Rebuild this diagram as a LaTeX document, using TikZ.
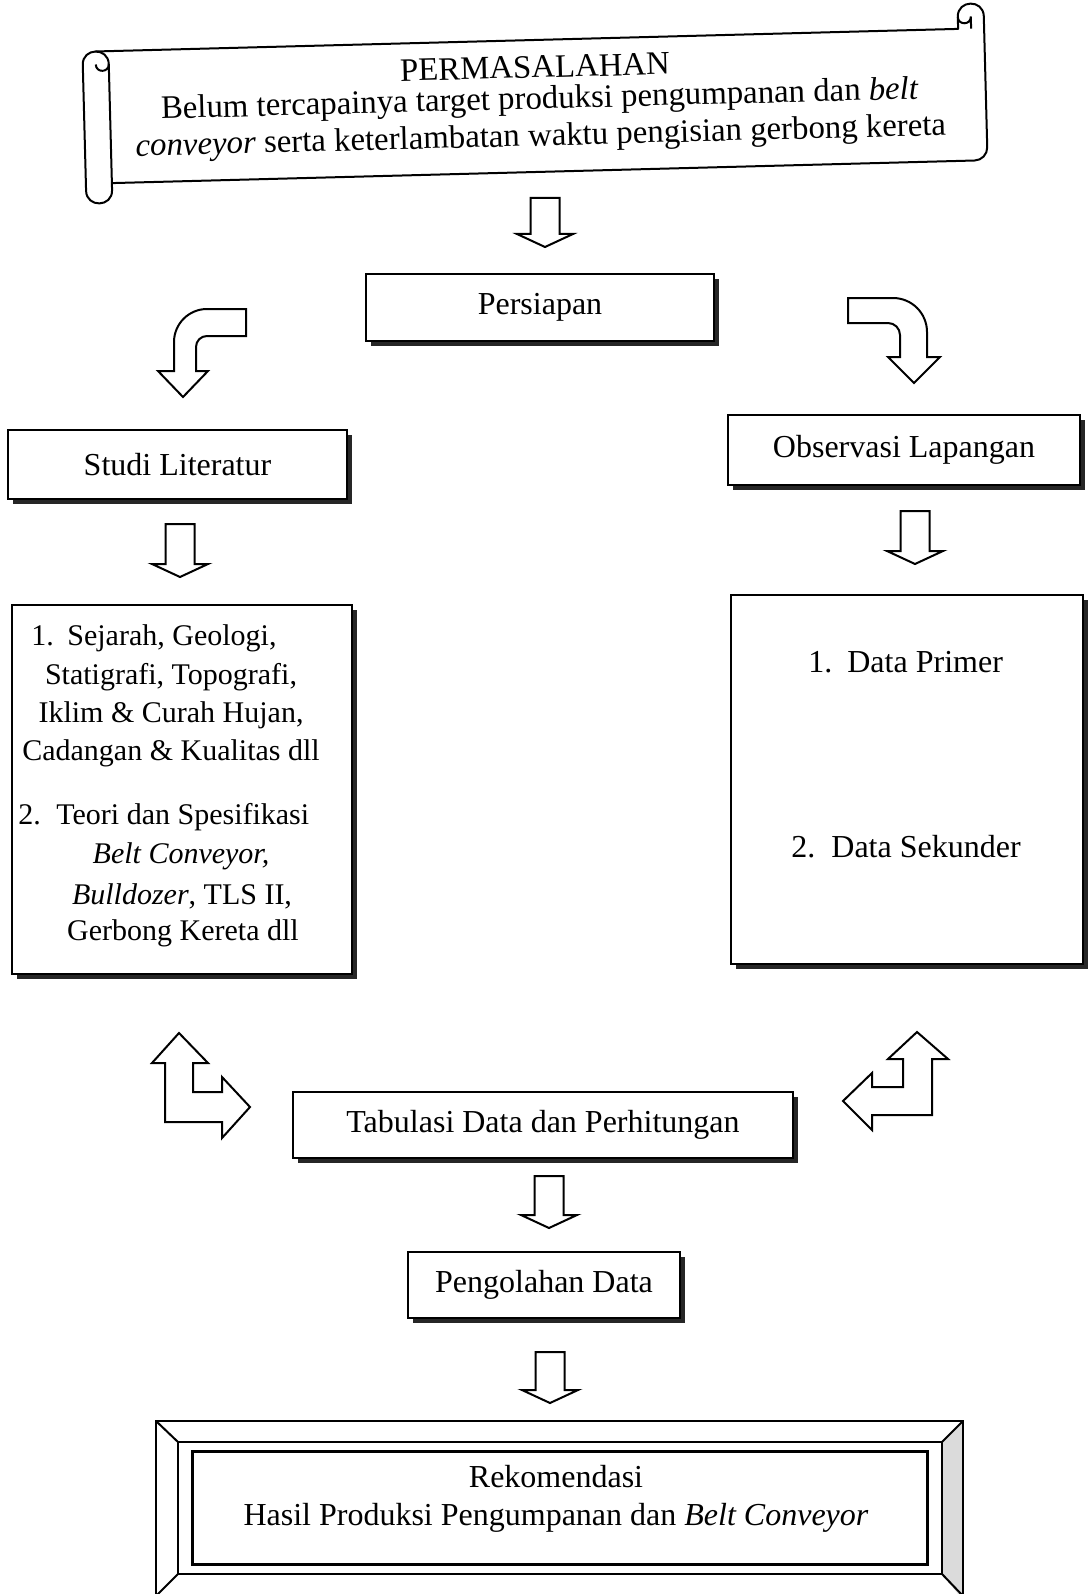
\documentclass[tikz,border=0pt]{standalone}
\usepackage{fontspec}
\setmainfont{Liberation Serif}
\usetikzlibrary{shadows}
\tikzset{
  txt/.style={font=\fontsize{16}{19.2}\selectfont, inner sep=0pt},
  stxt/.style={font=\fontsize{15}{18}\selectfont, inner sep=0pt},
  ktxt/.style={font=\fontsize{16.4}{19.6}\selectfont, inner sep=0pt},
  sbox/.style={draw, line width=1pt, fill=white, inner sep=0pt,
    drop shadow={shadow xshift=2.5pt, shadow yshift=-2.5pt, opacity=1, fill=black!85}},
  blk/.style={draw, line width=1pt, fill=white, line join=miter},
  frm/.style={draw, line width=1pt},
}
\newcommand{\blkdown}[4]{%
  \draw[blk] (#1-14.5,#2) -- (#1+14.5,#2) -- (#1+14.5,#3) -- (#1+28,#3) -- (#1,#4) -- (#1-28,#3) -- (#1-14.5,#3) -- cycle;}
\begin{document}
\begin{tikzpicture}[x=0.5pt, y=-0.5pt]
\useasboundingbox (0,0) rectangle (1087,1594);

% ---------- scroll ----------
\begin{scope}[shift={(535,106)}, rotate=1.5, transform shape]
  \draw[frm, line join=round] (-425,-53) -- (-425,73) .. controls (-425,90.3) and (-451,90.3) .. (-451,73)
      -- (-451,-53) .. controls (-451,-70.3) and (-425,-70.3) .. (-425,-53);
  \draw[frm] (-425,-53) .. controls (-425,-44.3) and (-438,-44.3) .. (-438,-53);
  \draw[frm, line join=round] (-438,-66) -- (425,-66) -- (425,-78) .. controls (425,-95.3) and (451,-95.3) .. (451,-78)
      -- (451,53) .. controls (451,60.2) and (445.2,66) .. (438,66) -- (-425,66);
  \draw[frm] (425,-78) .. controls (425,-69.3) and (438,-69.3) .. (438,-78) -- (438,-66);
  \node[ktxt] (perm) at (1,-39) {PERMASALAHAN};
  \node[ktxt] (perm2) at (5,-5) {Belum tercapainya target produksi pengumpanan dan \textit{belt}};
  \node[ktxt] (perm3) at (5,32) {\textit{conveyor} serta keterlambatan waktu pengisian gerbong kereta};
\end{scope}

% ---------- boxes ----------
\node[sbox, txt, minimum width=174pt, minimum height=33.5pt] (persiapan) at (540,307.5) {Persiapan};
\node[sbox, txt, minimum width=169.5pt, minimum height=34.5pt] (studi) at (177.5,464.5) {Studi Literatur};
\node[sbox, txt, minimum width=176pt, minimum height=35pt] (observasi) at (904,450) {Observasi Lapangan};
\node[sbox, minimum width=170pt, minimum height=184.5pt] (kiri) at (182,789.5) {};
\node[sbox, minimum width=176pt, minimum height=184.5pt] (kanan) at (907,779.5) {};
\node[sbox, txt, minimum width=250pt, minimum height=33pt] (tabulasi) at (543,1125) {Tabulasi Data dan Perhitungan};
\node[sbox, txt, minimum width=136pt, minimum height=33pt] (pengolahan) at (544,1285) {Pengolahan Data};

% left content
\node[stxt, anchor=west] (l1) at (31,638) {\makebox[18pt][l]{1.}Sejarah, Geologi,};
\node[stxt] (l2) at (171,677) {Statigrafi, Topografi,};
\node[stxt] (l3) at (171,715) {Iklim \& Curah Hujan,};
\node[stxt] (l4) at (171,753) {Cadangan \& Kualitas dll};
\node[stxt, anchor=west] (l5) at (18,817) {\makebox[19pt][l]{2.}Teori dan Spesifikasi};
\node[stxt] (l6) at (181,856) {\textit{Belt Conveyor,}};
\node[stxt] (l7) at (182,896) {\textit{Bulldozer}, TLS II,};
\node[stxt] (l8) at (183,933) {Gerbong Kereta dll};

% right content
\node[txt, anchor=west] (r1) at (808,662) {\makebox[19.5pt][l]{1.}Data Primer};
\node[txt, anchor=west] (r2) at (791,847) {\makebox[20pt][l]{2.}Data Sekunder};

% ---------- block arrows ----------
\blkdown{545}{198}{234}{247}
\blkdown{180}{524}{564}{577}
\blkdown{915}{511}{551}{564}
\blkdown{549}{1176}{1215}{1228}
\blkdown{550}{1352}{1390}{1403}

% curved arrows
\draw[blk] (246,309) -- (207,309) .. controls (188.8,309) and (174,323.8) .. (174,342) -- (174,371) -- (158,371)
  -- (183,397) -- (208,371) -- (196,371) -- (196,347) .. controls (196,340.9) and (200.9,336) .. (207,336) -- (246,336) -- cycle;
\draw[blk] (848,298) -- (893,298) .. controls (911.8,298) and (927,313.2) .. (927,332) -- (927,357) -- (940,357)
  -- (914,383) -- (888,357) -- (900,357) -- (900,335) .. controls (900,328.4) and (894.6,323) .. (888,323) -- (848,323) -- cycle;

% bent arrows
\draw[blk] (179,1033) -- (208,1063) -- (193,1063) -- (193,1092) -- (222,1092) -- (222,1077) -- (250,1107)
  -- (222,1138) -- (222,1122) -- (165,1122) -- (165,1063) -- (152,1063) -- cycle;
\draw[blk] (917,1032) -- (948,1059) -- (932,1059) -- (932,1115) -- (872,1115) -- (872,1130) -- (843,1101)
  -- (872,1073) -- (872,1087) -- (903,1087) -- (903,1059) -- (888,1059) -- cycle;

% ---------- bevel frame ----------
\fill[gray!28] (942,1442) -- (963,1421) -- (963,1600) -- (942,1574) -- cycle;
\draw[frm] (156,1600) -- (156,1421) -- (963,1421) -- (963,1600);
\draw[frm] (178,1442) rectangle (942,1574);
\draw[frm] (156,1421) -- (178,1442) (963,1421) -- (942,1442) (178,1574) -- (156,1596) (942,1574) -- (963,1596);
\draw[frm] (156,1596) -- (963,1596);
\node[draw, line width=1.5pt, minimum width=367.5pt, minimum height=56.5pt, inner sep=0pt] (rekom) at (559.5,1507.5) {};
\node[txt, align=center] (rekomtxt) at (556,1499) {Rekomendasi\\Hasil Produksi Pengumpanan dan \textit{Belt Conveyor}};
\end{tikzpicture}
\end{document}
